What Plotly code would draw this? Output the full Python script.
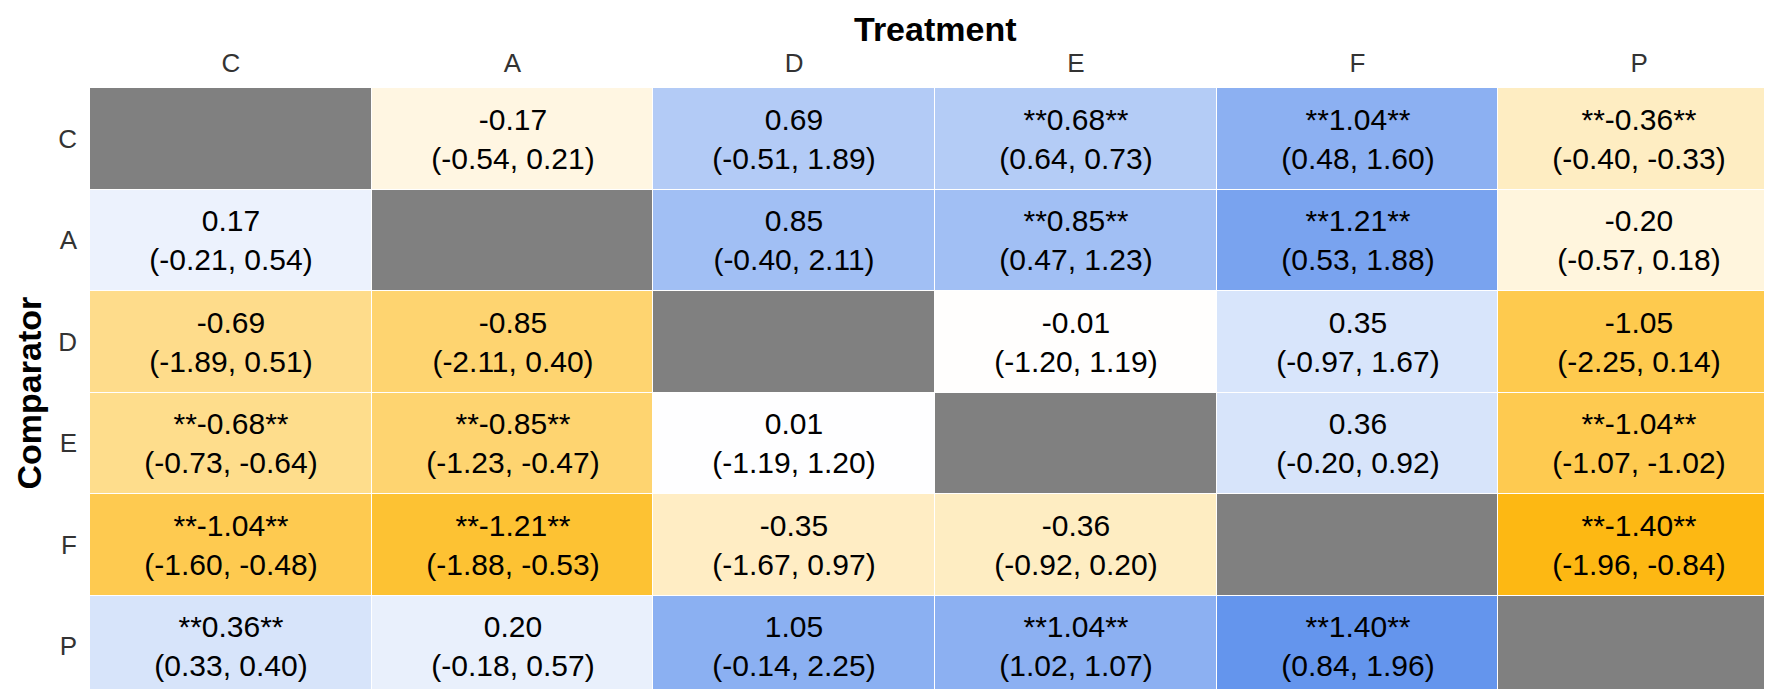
import plotly.graph_objects as go

# Treatment (columns) vs comparator (rows)
treatments = ["C", "A", "D", "E", "F", "P"]
comparators = ["C", "A", "D", "E", "F", "P"]

# point estimates, None on the diagonal
estimate = [
    [None, -0.17, 0.69, 0.68, 1.04, -0.36],
    [0.17, None, 0.85, 0.85, 1.21, -0.20],
    [-0.69, -0.85, None, -0.01, 0.35, -1.05],
    [-0.68, -0.85, 0.01, None, 0.36, -1.04],
    [-1.04, -1.21, -0.35, -0.36, None, -1.40],
    [0.36, 0.20, 1.05, 1.04, 1.40, None],
]
lower = [
    [None, -0.54, -0.51, 0.64, 0.48, -0.40],
    [-0.21, None, -0.40, 0.47, 0.53, -0.57],
    [-1.89, -2.11, None, -1.20, -0.97, -2.25],
    [-0.73, -1.23, -1.19, None, -0.20, -1.07],
    [-1.60, -1.88, -1.67, -0.92, None, -1.96],
    [0.33, -0.18, -0.14, 1.02, 0.84, None],
]
upper = [
    [None, 0.21, 1.89, 0.73, 1.60, -0.33],
    [0.54, None, 2.11, 1.23, 1.88, 0.18],
    [0.51, 0.40, None, 1.19, 1.67, 0.14],
    [-0.64, -0.47, 1.20, None, 0.92, -1.02],
    [-0.48, -0.53, 0.97, 0.20, None, -0.84],
    [0.40, 0.57, 2.25, 1.07, 1.96, None],
]

# Build the cell labels, ** marks intervals that exclude zero
labels = []
for est_row, lo_row, hi_row in zip(estimate, lower, upper):
    row = []
    for est, lo, hi in zip(est_row, lo_row, hi_row):
        if est is None:
            row.append("")
            continue
        mark = "**" if (lo > 0 or hi < 0) else ""
        row.append(f"{mark}{est:.2f}{mark}<br>({lo:.2f}, {hi:.2f})")
    labels.append(row)

# Grey blocks where a treatment meets itself
diagonal = [[1 if r == c else None for c in treatments] for r in comparators]

FONT = "Arial, Liberation Sans, sans-serif"

fig = go.Figure()

fig.add_trace(go.Heatmap(
    x=treatments,
    y=comparators,
    z=diagonal,
    colorscale=[[0, "#808080"], [1, "#808080"]],
    showscale=False,
    hoverinfo="skip",
    xgap=1,
    ygap=1,
))

fig.add_trace(go.Heatmap(
    x=treatments,
    y=comparators,
    z=estimate,
    text=labels,
    texttemplate="%{text}",
    textfont=dict(family=FONT, size=30, color="black"),
    colorscale=[[0, "#FDB813"], [0.5, "#FFFFFF"], [1, "#6495ED"]],
    zmin=-1.4,
    zmax=1.4,
    showscale=False,
    hoverinfo="skip",
    xgap=1,
    ygap=1,
))

fig.update_layout(
    width=1772,
    height=689,
    margin=dict(l=82, r=0, t=80, b=0),
    paper_bgcolor="white",
    plot_bgcolor="white",
    font=dict(family=FONT),
    xaxis=dict(side="top", showgrid=False, zeroline=False, ticks="",
               ticklabelstandoff=10,
               tickfont=dict(size=26, color="#333333")),
    yaxis=dict(autorange="reversed", showgrid=False, zeroline=False, ticks="",
               ticklabelstandoff=12,
               tickfont=dict(size=26, color="#333333")),
    annotations=[
        dict(text="<b>Treatment</b>", xref="paper", yref="paper", x=0.5, y=1.097,
             xanchor="center", yanchor="middle", showarrow=False,
             font=dict(size=34, color="black", family=FONT)),
        dict(text="<b>Comparator</b>", xref="paper", yref="paper", x=-0.0361, y=0.5,
             xanchor="center", yanchor="middle", textangle=-90, showarrow=False,
             font=dict(size=34, color="black", family=FONT)),
    ],
)

fig.write_html("out.html")
